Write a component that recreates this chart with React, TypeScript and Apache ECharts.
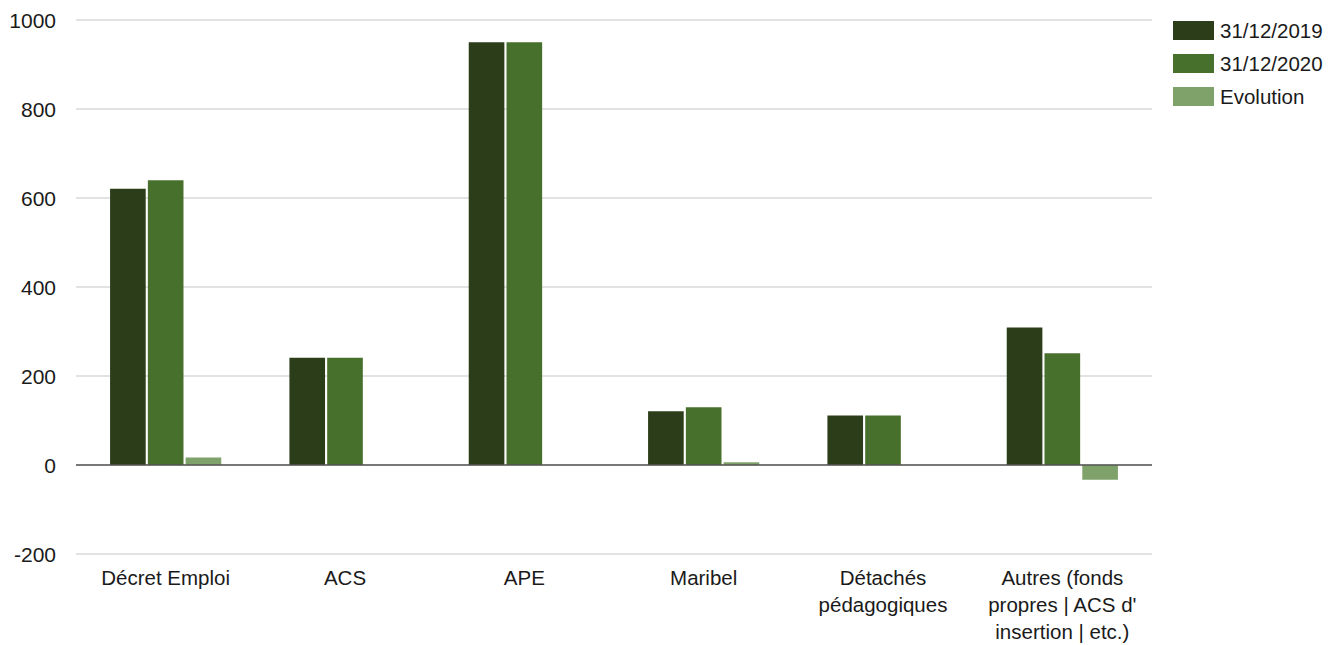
import React, { useEffect, useRef } from "react";
import * as echarts from "echarts";

// Funding categories shown along the x axis
const categories = [
  "Décret Emploi",
  "ACS",
  "APE",
  "Maribel",
  "Détachés\npédagogiques",
  "Autres (fonds\npropres | ACS d'\ninsertion | etc.)",
];

// Headcount at each date and the evolution bar
const values2019 = [621, 241, 950, 121, 111, 309];
const values2020 = [640, 241, 950, 130, 111, 251];
const evolution = [17, 0, 0, 6, 0, -33];

const seriesNames = ["31/12/2019", "31/12/2020", "Evolution"];
const colors = ["#2c3e19", "#47702c", "#7fa26b"];

const yMin = -200;
const yMax = 1000;
const yStep = 200;

const FONT = "'Liberation Sans', Arial, Helvetica, sans-serif";

export default function App() {
  const ref = useRef<HTMLDivElement>(null);

  useEffect(() => {
    if (!ref.current) return;
    const chart = echarts.init(ref.current, undefined, { renderer: "svg" });
    const barCommon = {
      type: "bar" as const,
      barGap: "6%",
      barCategoryGap: "38%",
    };
    chart.setOption({
      animation: false,
      backgroundColor: "#ffffff",
      textStyle: { fontFamily: FONT },
      color: colors,
      grid: { left: 76, right: 177, top: 20, bottom: 88, containLabel: false },
      legend: {
        orient: "vertical",
        left: 1173,
        top: 20,
        padding: 0,
        itemWidth: 41,
        itemHeight: 19,
        itemGap: 12,
        icon: "rect",
        textStyle: {
          fontSize: 20.5,
          color: "#1a1a1a",
          fontFamily: FONT,
          padding: [0, 0, 0, 1],
        },
        data: seriesNames,
      },
      xAxis: {
        type: "category",
        data: categories,
        axisLine: { show: false, onZero: false },
        axisTick: { show: false },
        axisLabel: {
          fontSize: 20.5,
          color: "#1a1a1a",
          lineHeight: 27,
          margin: 10,
          interval: 0,
          fontFamily: FONT,
        },
      },
      yAxis: {
        type: "value",
        min: yMin,
        max: yMax,
        interval: yStep,
        axisLine: { show: false },
        axisTick: { show: false },
        axisLabel: {
          fontSize: 21,
          color: "#1a1a1a",
          margin: 20,
          fontFamily: FONT,
          formatter: (v: number) => String(v),
        },
        splitLine: { lineStyle: { color: "#d9d9d9", width: 1.5 } },
      },
      series: [
        {
          ...barCommon,
          name: seriesNames[0],
          data: values2019,
          markLine: {
            silent: true,
            symbol: "none",
            label: { show: false },
            lineStyle: { color: "#555555", width: 1.5, type: "solid" },
            data: [{ yAxis: 0 }],
          },
        },
        { ...barCommon, name: seriesNames[1], data: values2020 },
        { ...barCommon, name: seriesNames[2], data: evolution },
      ],
    });
    return () => chart.dispose();
  }, []);

  return (
    <div
      ref={ref}
      style={{ position: "absolute", left: 0, top: 0, width: 1329, height: 645 }}
    />
  );
}
